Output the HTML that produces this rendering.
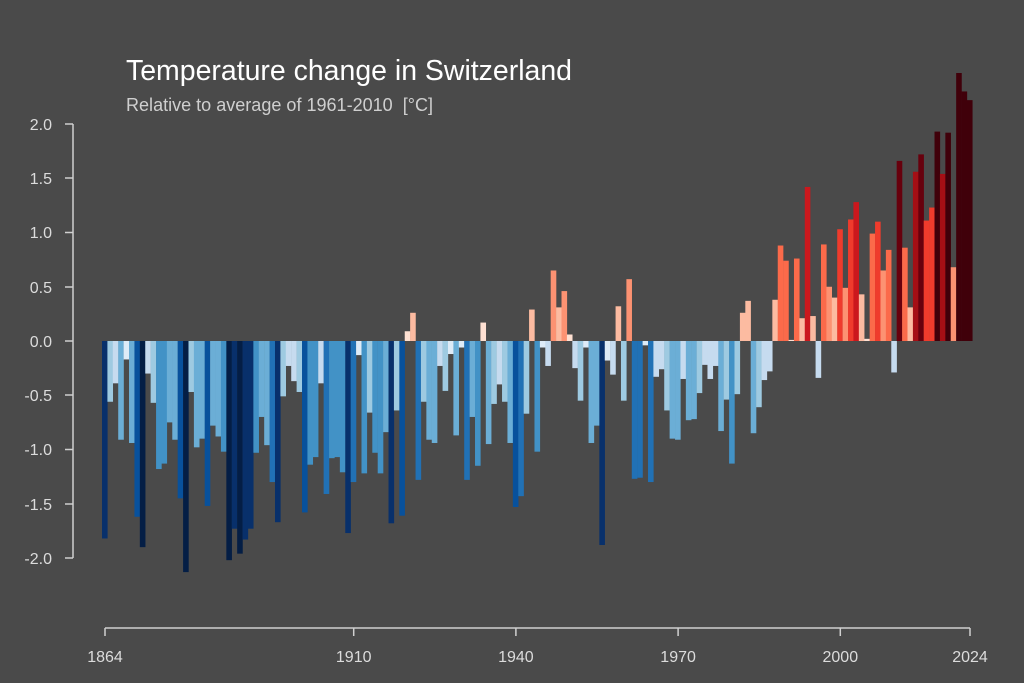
<!DOCTYPE html>
<html><head><meta charset="utf-8">
<style>
html,body{margin:0;padding:0;background:#4a4a4a;}
svg{display:block;font-family:"Liberation Sans",sans-serif;}
</style></head>
<body>
<svg id="c" width="1024" height="683" viewBox="0 0 1024 683" xmlns="http://www.w3.org/2000/svg">
<rect width="1024" height="683" fill="#4a4a4a"/>
<text x="126" y="80" font-size="28.5" fill="#ffffff" textLength="446" lengthAdjust="spacingAndGlyphs">Temperature change in Switzerland</text>
<text x="126" y="111" font-size="18" fill="#cfcfcf" textLength="307" lengthAdjust="spacingAndGlyphs">Relative to average of 1961-2010&#160;&#160;[°C]</text>
<g stroke="#d0d0d0" stroke-width="1.5" fill="none">
<line x1="73" y1="124" x2="73" y2="558"/>
<line x1="65" y1="124" x2="73" y2="124"/><line x1="65" y1="178" x2="73" y2="178"/>
<line x1="65" y1="232.5" x2="73" y2="232.5"/><line x1="65" y1="287" x2="73" y2="287"/>
<line x1="65" y1="341" x2="73" y2="341"/><line x1="65" y1="395" x2="73" y2="395"/>
<line x1="65" y1="449.5" x2="73" y2="449.5"/><line x1="65" y1="504" x2="73" y2="504"/>
<line x1="65" y1="558" x2="73" y2="558"/>
<line x1="105" y1="628" x2="970" y2="628"/>
<line x1="105" y1="628" x2="105" y2="636"/><line x1="353.7" y1="628" x2="353.7" y2="636"/>
<line x1="515.9" y1="628" x2="515.9" y2="636"/><line x1="678.1" y1="628" x2="678.1" y2="636"/>
<line x1="840.3" y1="628" x2="840.3" y2="636"/><line x1="970" y1="628" x2="970" y2="636"/>
</g>
<g font-size="16" fill="#dcdcdc" text-anchor="end">
<text x="52" y="130">2.0</text><text x="52" y="184">1.5</text><text x="52" y="238">1.0</text>
<text x="52" y="293">0.5</text><text x="52" y="347">0.0</text><text x="52" y="401">-0.5</text>
<text x="52" y="455">-1.0</text><text x="52" y="510">-1.5</text><text x="52" y="564">-2.0</text>
</g>
<g font-size="16" fill="#dcdcdc" text-anchor="middle">
<text x="105" y="662">1864</text><text x="353.7" y="662">1910</text><text x="515.9" y="662">1940</text>
<text x="678.1" y="662">1970</text><text x="840.3" y="662">2000</text><text x="970" y="662">2024</text>
</g>
<g id="bars"></g>
</svg>
<script>
var v=[-1.82,-0.56,-0.39,-0.91,-0.17,-0.94,-1.62,-1.90,-0.30,-0.57,-1.18,-1.13,-0.75,-0.91,-1.45,-2.13,-0.47,-0.98,-0.90,-1.52,-0.78,-0.88,-1.02,-2.02,-1.73,-1.96,-1.83,
-1.73,-1.03,-0.70,-0.96,-1.30,-1.67,-0.51,-0.23,-0.37,-0.47,-1.58,-1.14,-1.07,-0.39,-1.41,-1.08,-1.07,-1.21,-1.77,-1.30,-0.13,-1.22,-0.66,-1.03,-1.22,-0.84,-1.68,
-0.64,-1.61,0.09,0.26,-1.28,-0.56,-0.91,-0.94,-0.23,-0.46,-0.12,-0.87,-0.06,-1.28,-0.70,-1.15,0.17,-0.95,-0.58,-0.40,-0.56,-0.94,-1.53,-1.43,-0.67,0.29,-1.02,
-0.06,-0.23,0.65,0.31,0.46,0.06,-0.25,-0.55,-0.06,-0.94,-0.78,-1.88,-0.18,-0.31,0.32,-0.55,0.57,-1.27,-1.26,-0.04,-1.30,-0.33,-0.26,-0.64,-0.90,-0.91,-0.35,
-0.73,-0.72,-0.48,-0.22,-0.35,-0.23,-0.83,-0.54,-1.13,-0.49,0.26,0.37,-0.85,-0.61,-0.36,-0.28,0.38,0.88,0.74,0.01,0.76,0.21,1.42,0.23,-0.34,0.89,0.50,0.40,
1.03,0.49,1.12,1.28,0.43,0.02,0.99,1.10,0.65,0.84,-0.29,1.66,0.86,0.31,1.56,1.72,1.11,1.23,1.93,1.54,1.92,0.68,2.47,2.30,2.22];
var B=[[0.2,"#deebf7"],[0.45,"#c6dbef"],[0.7,"#9ecae1"],[1.0,"#6baed6"],[1.25,"#4292c6"],[1.45,"#2171b5"],[1.65,"#08519c"],[1.9,"#08306b"],[9,"#041e45"]];
var R=[[0.2,"#fee0d2"],[0.45,"#fcbba1"],[0.7,"#fc9272"],[1.0,"#fb6a4a"],[1.25,"#ef3b2c"],[1.45,"#cb181d"],[1.65,"#a50f15"],[1.9,"#67000d"],[9,"#40000a"]];
function col(x){var t=x<0?B:R,a=Math.abs(x);for(var i=0;i<t.length;i++)if(a<t[i][0])return t[i][1];}
var s="",k=108.5;
for(var i=0;i<v.length;i++){var x=102+5.406*i,h=Math.abs(v[i])*k,y=v[i]>=0?341-h:341;
s+='<rect x="'+x.toFixed(2)+'" y="'+y.toFixed(2)+'" width="5.6" height="'+Math.max(h,0.8).toFixed(2)+'" fill="'+col(v[i])+'"/>';}
document.getElementById("bars").innerHTML=s;
</script>
</body></html>
